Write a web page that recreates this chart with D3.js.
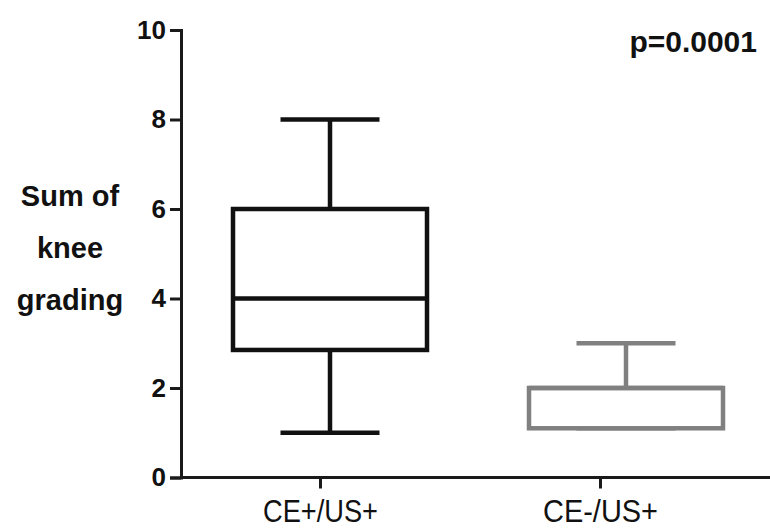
<!DOCTYPE html>
<head>
<meta charset="utf-8">
</head>
<style>
  body { margin: 0; background: #fff; }
  svg { display: block; font-family: "Liberation Sans", Arial, sans-serif; }
  .axis path, .axis line { stroke: #1a1a1a; stroke-width: 3px; fill: none; }
  .y.axis text { font-size: 26px; font-weight: bold; fill: #111; }
  .x.axis text { font-size: 31px; fill: #111; }
  .ylabel { font-size: 29px; font-weight: bold; fill: #111; }
  .pval { font-size: 30px; font-weight: bold; fill: #111; }
</style>
<body>
<script src="https://d3js.org/d3.v7.min.js"></script>
<script>

var groups = ["CE+/US+", "CE-/US+"]
var mins = [1, 1.1]
var q1s = [2.85, 1.1]
var medians = [4, 2]
var q3s = [6, 2]
var maxs = [8, 3]
var boxColors = ["#111111", "#808080"]
var yTicks = [0, 2, 4, 6, 8, 10]
var yLabelLines = ["Sum of", "knee", "grading"]
var pText = "p=0.0001"

var width = 770, height = 530
var margin = {top: 30, left: 181, bottom: 52.5}

var svg = d3.select("body").append("svg")
    .attr("width", width)
    .attr("height", height)

var y = d3.scaleLinear()
    .domain([0, 10])
    .range([height - margin.bottom, margin.top])

// box centres and axis ticks sit slightly apart in the original
var xBox = d3.scalePoint().domain(groups).range([330, 626])
var xTick = d3.scalePoint().domain(groups).range([320, 600])

var boxW = 194, capW = 99

var data = groups.map(function(g, i) {
  return {name: g, min: mins[i], q1: q1s[i], med: medians[i], q3: q3s[i], max: maxs[i], color: boxColors[i]}
})

// x axis
svg.append("line")
    .attr("x1", margin.left).attr("x2", width)
    .attr("y1", y(0)).attr("y2", y(0))
    .style("stroke", "#1a1a1a").style("stroke-width", 3)

var xAxis = svg.append("g")
    .attr("class", "x axis")
    .attr("transform", "translate(0," + y(0) + ")")
    .call(d3.axisBottom(xTick).tickSize(11).tickSizeOuter(0).tickPadding(11))
xAxis.select(".domain").remove()
// condensed lettering like the original
xAxis.selectAll("text")
    .attr("textLength", 115)
    .attr("lengthAdjust", "spacingAndGlyphs")

// y axis
svg.append("g")
    .attr("class", "y axis")
    .attr("transform", "translate(" + margin.left + ",0)")
    .call(d3.axisLeft(y).tickValues(yTicks).tickSize(11).tickSizeOuter(11).tickPadding(4))

// boxes
var box = svg.selectAll(".box")
    .data(data)
  .enter().append("g")
    .attr("class", "box")
    .style("stroke", function(d) { return d.color })
    .style("stroke-width", 4.5)
    .style("fill", "none")

box.append("line")
    .attr("x1", function(d) { return xBox(d.name) })
    .attr("x2", function(d) { return xBox(d.name) })
    .attr("y1", function(d) { return y(d.max) })
    .attr("y2", function(d) { return y(d.q3) })

box.append("line")
    .attr("x1", function(d) { return xBox(d.name) })
    .attr("x2", function(d) { return xBox(d.name) })
    .attr("y1", function(d) { return y(d.q1) })
    .attr("y2", function(d) { return y(d.min) })

box.append("line")
    .attr("x1", function(d) { return xBox(d.name) - capW / 2 })
    .attr("x2", function(d) { return xBox(d.name) + capW / 2 })
    .attr("y1", function(d) { return y(d.max) })
    .attr("y2", function(d) { return y(d.max) })

box.append("line")
    .attr("x1", function(d) { return xBox(d.name) - capW / 2 })
    .attr("x2", function(d) { return xBox(d.name) + capW / 2 })
    .attr("y1", function(d) { return y(d.min) })
    .attr("y2", function(d) { return y(d.min) })

box.append("rect")
    .attr("x", function(d) { return xBox(d.name) - boxW / 2 })
    .attr("width", boxW)
    .attr("y", function(d) { return y(d.q3) })
    .attr("height", function(d) { return y(d.q1) - y(d.q3) })
    .style("fill", "#fff")

box.append("line")
    .attr("x1", function(d) { return xBox(d.name) - boxW / 2 })
    .attr("x2", function(d) { return xBox(d.name) + boxW / 2 })
    .attr("y1", function(d) { return y(d.med) })
    .attr("y2", function(d) { return y(d.med) })

// y label
svg.append("text")
    .attr("class", "ylabel")
    .attr("text-anchor", "middle")
  .selectAll("tspan")
    .data(yLabelLines)
  .enter().append("tspan")
    .attr("x", 70)
    .attr("y", function(d, i) { return 206 + i * 52 })
    .text(function(d) { return d })

svg.append("text")
    .attr("class", "pval")
    .attr("x", 757)
    .attr("y", 52)
    .attr("text-anchor", "end")
    .text(pText)

</script>
</body>
